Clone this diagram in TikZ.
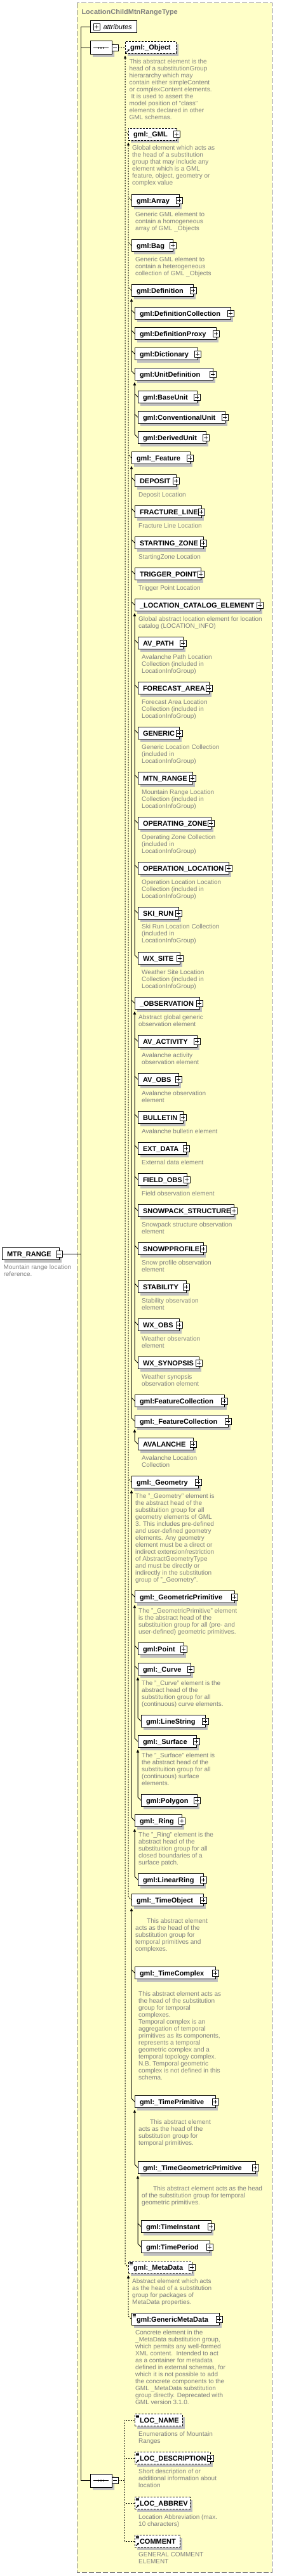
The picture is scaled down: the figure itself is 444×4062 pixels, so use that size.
\documentclass[tikz,border=0pt]{standalone}
\usepackage{fontspec}
\setmainfont{Liberation Sans}
\usepackage{xcolor}
\usetikzlibrary{arrows.meta,shapes.misc,shadows}
\definecolor{TypeYellow}{RGB}{255,255,200}
\definecolor{TypeFrame}{RGB}{128,128,128}
\definecolor{DocGray}{RGB}{128,128,128}
\definecolor{ShadowGray}{RGB}{192,192,192}
\newcommand{\elfont}{\fontsize{11}{13}\selectfont\bfseries}
\newcommand{\docfont}{\fontsize{10}{11}\selectfont}
\hyphenpenalty=10000
\exhyphenpenalty=10000

\begin{document}
\begin{tikzpicture}[x=1pt,y=-1pt,line width=1pt,
  elbox/.style={draw,fill=white,anchor=west,outer sep=0pt,inner xsep=0pt,inner ysep=0pt,
    text width=#1pt,minimum height=19pt,text height=9.5pt,text depth=1.5pt,align=left,
    font=\elfont,execute at begin node={\leavevmode\hspace*{8pt}},
    drop shadow={shadow xshift=4pt,shadow yshift=-4pt,fill=ShadowGray,opacity=1}},
  absbox/.style={elbox=#1,dash pattern=on 3pt off 2pt},
  docnote/.style={anchor=north west,yshift=7.7pt,inner sep=0pt,align=left,font=\docfont,
    text=DocGray,execute at begin node={\strut}},
  plusbox/.style={draw,solid,fill=white,minimum size=10pt,inner sep=0pt,outer sep=0pt,
    path picture={\draw[solid,line width=1pt] ([xshift=2pt]path picture bounding box.west) -- ([xshift=-2pt]path picture bounding box.east)
      ([yshift=2pt]path picture bounding box.south) -- ([yshift=-2pt]path picture bounding box.north);}},
  minusbox/.style={draw,solid,fill=white,minimum size=10pt,inner sep=0pt,outer sep=0pt,
    path picture={\draw[solid,line width=1pt] ([xshift=2pt]path picture bounding box.west) -- ([xshift=-2pt]path picture bounding box.east);}},
  seqbox/.style={chamfered rectangle,chamfered rectangle xsep=4pt,draw,fill=white,
    minimum width=34pt,minimum height=21pt,inner sep=0pt,outer sep=0pt,
    drop shadow={shadow xshift=4pt,shadow yshift=-4pt,fill=ShadowGray,opacity=1}},
  subline/.style={{Triangle[length=5pt,width=4pt]}-},
  dline/.style={dash pattern=on 2pt off 2pt},
  subdash/.style={subline,dline}
]
\fill[white] (0,0) rectangle (444,4062);
\useasboundingbox (0,0) rectangle (444,4062);

% complex type frame
\draw[TypeFrame,fill=TypeYellow,dash pattern=on 8pt off 3pt] (121,5) rectangle (428,4056);
\node[anchor=base west,inner sep=0pt,font=\elfont,text=DocGray] (title) at (128,23) {LocationChildMtnRangeType};

% root element
\node[elbox=90] (root) at (3,1977) {MTR\_RANGE};
\node[minusbox] (root-x) at (root.east) {};
\node[docnote] (d-root) at (5,2001.5) {Mountain range location\\reference.};

% attributes and sequences
\node[draw,fill=white,anchor=west,outer sep=0pt,inner xsep=0pt,text width=73pt,minimum height=19pt,
  text height=9.5pt,text depth=1.5pt,align=left,font=\fontsize{11}{13}\selectfont\itshape,
  execute at begin node={\leavevmode\hspace*{20.5pt}}] (attr) at (142,42.5) {attributes};
\node[plusbox] (attr-x) at ([xshift=10pt]attr.west) {};
\node[seqbox] (seqa) at (159,75.5) {};
\node[minusbox,anchor=west] (seqa-x) at (seqa.east) {};
\node[seqbox] (seqb) at (159,3911.5) {};
\node[minusbox,anchor=west] (seqb-x) at (seqb.east) {};
\foreach \s in {seqa,seqb} {
  \draw ([xshift=-12pt]\s.center) -- ([xshift=12pt]\s.center);
  \foreach \d in {-4,0,4} \fill ([xshift=\d pt]\s.center) circle (1.4pt);
}

% first sequence: substitution groups
\node[absbox=80] (object) at (197,75) {gml:\_Object};
\node[docnote] (d-object) at (203,100.5) {This abstract element is the\\head of a substitutionGroup\\hierararchy which may\\contain either simpleContent\\or complexContent elements.\\\hspace*{3pt}It is used to assert the\\model position of "class"\\elements declared in other\\GML schemas.};
\node[absbox=76] (gml) at (202,212) {gml:\_GML};
\node[docnote] (d-gml) at (207.7,236.8) {Global element which acts as\\the head of a substitution\\group that may include any\\element which is a GML\\feature, object, geometry or\\complex value};
\node[elbox=75] (array) at (207,316) {gml:Array};
\node[docnote] (d-array) at (212.7,341.5) {Generic GML element to\\contain a homogeneous\\array of GML \_Objects};
\node[elbox=65] (bag) at (207,387) {gml:Bag};
\node[docnote] (d-bag) at (212.7,412.2) {Generic GML element to\\contain a heterogeneous\\collection of GML \_Objects};
\node[elbox=97] (defn) at (207,458) {gml:Definition};
\node[elbox=151] (defcoll) at (212,494) {gml:DefinitionCollection};
\node[elbox=128] (defproxy) at (212,526) {gml:DefinitionProxy};
\node[elbox=99] (dict) at (212,558) {gml:Dictionary};
\node[elbox=123] (unitdef) at (212,590) {gml:UnitDefinition};
\node[elbox=93] (baseunit) at (217,626) {gml:BaseUnit};
\node[elbox=137] (convunit) at (217,658) {gml:ConventionalUnit};
\node[elbox=107] (derunit) at (217,690) {gml:DerivedUnit};
\node[elbox=92] (feature) at (207,722) {gml:\_Feature};
\node[elbox=65] (deposit) at (212,758) {DEPOSIT};
\node[docnote] (d-deposit) at (217.7,783.2) {Deposit Location};
\node[elbox=105] (fracture) at (212,807) {FRACTURE\_LINE};
\node[docnote] (d-fracture) at (217.7,832.2) {Fracture Line Location};
\node[elbox=108] (startzone) at (212,856) {STARTING\_ZONE};
\node[docnote] (d-startzone) at (217.7,881.2) {StartingZone Location};
\node[elbox=104] (trigger) at (212,905) {TRIGGER\_POINT};
\node[docnote] (d-trigger) at (217.7,930.2) {Trigger Point Location};
\node[elbox=197] (loccat) at (212,954) {\_LOCATION\_CATALOG\_ELEMENT};
\node[docnote] (d-loccat) at (217.7,979.2) {Global abstract location element for location\\catalog (LOCATION\_INFO)};
\node[elbox=71] (avpath) at (217,1014) {AV\_PATH};
\node[docnote] (d-avpath) at (222.7,1039.2) {Avalanche Path Location\\Collection (included in\\LocationInfoGroup)};
\node[elbox=112] (forecast) at (217,1085) {FORECAST\_AREA};
\node[docnote] (d-forecast) at (222.7,1110.5) {Forecast Area Location\\Collection (included in\\LocationInfoGroup)};
\node[elbox=65] (generic) at (217,1156) {GENERIC};
\node[docnote] (d-generic) at (222.7,1181.2) {Generic Location Collection\\(included in\\LocationInfoGroup)};
\node[elbox=86] (mtnrange) at (217,1227) {MTN\_RANGE};
\node[docnote] (d-mtnrange) at (222.7,1252.2) {Mountain Range Location\\Collection (included in\\LocationInfoGroup)};
\node[elbox=115] (opzone) at (217,1298) {OPERATING\_ZONE};
\node[docnote] (d-opzone) at (222.7,1323.2) {Operating Zone Collection\\(included in\\LocationInfoGroup)};
\node[elbox=143] (oploc) at (217,1369) {OPERATION\_LOCATION};
\node[docnote] (d-oploc) at (222.7,1394.2) {Operation Location Location\\Collection (included in\\LocationInfoGroup)};
\node[elbox=64] (skirun) at (217,1440) {SKI\_RUN};
\node[docnote] (d-skirun) at (222.7,1464.8) {Ski Run Location Collection\\(included in\\LocationInfoGroup)};
\node[elbox=66] (wxsite) at (217,1511) {WX\_SITE};
\node[docnote] (d-wxsite) at (222.7,1536.2) {Weather Site Location\\Collection (included in\\LocationInfoGroup)};
\node[elbox=102] (observ) at (212,1582) {\_OBSERVATION};
\node[docnote] (d-observ) at (217.7,1607.2) {Abstract global generic\\observation element};
\node[elbox=93] (avact) at (217,1642) {AV\_ACTIVITY};
\node[docnote] (d-avact) at (222.7,1667.2) {Avalanche activity\\observation element};
\node[elbox=64] (avobs) at (217,1702) {AV\_OBS};
\node[docnote] (d-avobs) at (222.7,1727.2) {Avalanche observation\\element};
\node[elbox=71] (bulletin) at (217,1762) {BULLETIN};
\node[docnote] (d-bulletin) at (222.7,1787.2) {Avalanche bulletin element};
\node[elbox=76] (extdata) at (217,1811) {EXT\_DATA};
\node[docnote] (d-extdata) at (222.7,1836.2) {External data element};
\node[elbox=77] (fieldobs) at (217,1860) {FIELD\_OBS};
\node[docnote] (d-fieldobs) at (222.7,1885.2) {Field observation element};
\node[elbox=151] (snowpack) at (217,1909) {SNOWPACK\_STRUCTURE};
\node[docnote] (d-snowpack) at (222.7,1934.2) {Snowpack structure observation\\element};
\node[elbox=103] (snowprof) at (217,1969) {SNOWPPROFILE};
\node[docnote] (d-snowprof) at (222.7,1994.2) {Snow profile observation\\element};
\node[elbox=76] (stability) at (217,2029) {STABILITY};
\node[docnote] (d-stability) at (222.7,2054.2) {Stability observation\\element};
\node[elbox=65] (wxobs) at (217,2089) {WX\_OBS};
\node[docnote] (d-wxobs) at (222.7,2114.2) {Weather observation\\element};
\node[elbox=96] (wxsyn) at (217,2149) {WX\_SYNOPSIS};
\node[docnote] (d-wxsyn) at (222.7,2174.2) {Weather synopsis\\observation element};
\node[elbox=141] (featcoll) at (212,2209) {gml:FeatureCollection};
\node[elbox=147] (afeatcoll) at (212,2241) {gml:\_FeatureCollection};
\node[elbox=87] (avalanche) at (217,2277) {AVALANCHE};
\node[docnote] (d-avalanche) at (222.7,2302.2) {Avalanche Location\\Collection};
\node[elbox=105] (geometry) at (207,2337) {gml:\_Geometry};
\node[docnote] (d-geometry) at (212.7,2362.2) {The "\_Geometry" element is\\the abstract head of the\\substituition group for all\\geometry elements of GML\\3. This includes pre-defined\\and user-defined geometry\\elements. Any geometry\\element must be a direct or\\indirect extension/restriction\\of AbstractGeometryType\\and must be directly or\\indirectly in the substitution\\group of "\_Geometry".};
\node[elbox=157] (geomprim) at (212,2518) {gml:\_GeometricPrimitive};
\node[docnote] (d-geomprim) at (217.7,2543.2) {The "\_GeometricPrimitive" element\\is the abstract head of the\\substituition group for all (pre- and\\user-defined) geometric primitives.};
\node[elbox=72] (point) at (217,2600) {gml:Point};
\node[elbox=83] (curve) at (217,2632) {gml:\_Curve};
\node[docnote] (d-curve) at (222.7,2657.2) {The "\_Curve" element is the\\abstract head of the\\substituition group for all\\(continuous) curve elements.};
\node[elbox=101] (linestring) at (222,2714) {gml:LineString};
\node[elbox=92] (surface) at (217,2746) {gml:\_Surface};
\node[docnote] (d-surface) at (222.7,2771.2) {The "\_Surface" element is\\the abstract head of the\\substituition group for all\\(continuous) surface\\elements.};
\node[elbox=88] (polygon) at (222,2839) {gml:Polygon};
\node[elbox=74] (ring) at (212,2871) {gml:\_Ring};
\node[docnote] (d-ring) at (217.7,2896.2) {The "\_Ring" element is the\\abstract head of the\\substituition group for all\\closed boundaries of a\\surface patch.};
\node[elbox=103] (linring) at (217,2964) {gml:LinearRing};
\node[elbox=113] (timeobj) at (207,2996) {gml:\_TimeObject};
\node[docnote] (d-timeobj) at (212.7,3032.2) {\hspace*{18pt}This abstract element\\acts as the head of the\\substitution group for\\temporal primitives and\\complexes.};
\node[elbox=127] (timecplx) at (212,3111) {gml:\_TimeComplex};
\node[docnote] (d-timecplx) at (217.7,3147.2) {This abstract element acts as\\the head of the substitution\\group for temporal\\complexes.\\Temporal complex is an\\aggregation of temporal\\primitives as its components,\\represents a temporal\\geometric complex and a\\temporal topology complex.\\N.B. Temporal geometric\\complex is not defined in this\\schema.};
\node[elbox=127] (timeprim) at (212,3314) {gml:\_TimePrimitive};
\node[docnote] (d-timeprim) at (217.7,3349.8) {\hspace*{18pt}This abstract element\\acts as the head of the\\substitution group for\\temporal primitives.};
\node[elbox=185] (timegeom) at (217,3418) {gml:\_TimeGeometricPrimitive};
\node[docnote] (d-timegeom) at (222.7,3454.2) {\hspace*{18pt}This abstract element acts as the head\\of the substitution group for temporal\\geometric primitives.};
\node[elbox=110] (timeinst) at (222,3511) {gml:TimeInstant};
\node[elbox=108] (timeper) at (222,3543) {gml:TimePeriod};
\node[absbox=100] (metadata) at (202,3575) {gml:\_MetaData};
\node[docnote] (d-metadata) at (207.7,3600.2) {Abstract element which acts\\as the head of a substitution\\group for packages of\\MetaData properties.};
\node[elbox=138] (genmeta) at (207,3657) {gml:GenericMetaData};
\node[docnote] (d-genmeta) at (212.7,3681.8) {Concrete element in the\\\_MetaData substitution group,\\which permits any well-formed\\XML content.\ \ Intended to act\\as a container for metadata\\defined in external schemas, for\\which it is not possible to add\\the concrete components to the\\GML \_MetaData substitution\\group directly. Deprecated with\\GML version 3.1.0.};

% second sequence
\node[absbox=75] (locname) at (212,3816) {LOC\_NAME};
\node[docnote] (d-locname) at (217.7,3841.2) {Enumerations of Mountain\\Ranges};
\node[absbox=119] (locdesc) at (212,3876) {LOC\_DESCRIPTION};
\node[docnote] (d-locdesc) at (217.7,3900.8) {Short description of or\\additional information about\\location};
\node[absbox=87] (locabbr) at (212,3947) {LOC\_ABBREV};
\node[docnote] (d-locabbr) at (217.7,3972.2) {Location Abbreviation (max.\\10 characters)};
\node[absbox=71] (comment) at (212,4007) {COMMENT};
\node[docnote] (d-comment) at (217.7,4031.8) {GENERAL COMMENT\\ELEMENT};

% expand boxes
\foreach \n in {gml,array,bag,defn,defcoll,defproxy,dict,unitdef,baseunit,convunit,derunit,
  feature,deposit,fracture,startzone,trigger,loccat,avpath,forecast,generic,mtnrange,opzone,
  oploc,skirun,wxsite,observ,avact,avobs,bulletin,extdata,fieldobs,snowpack,snowprof,stability,
  wxobs,wxsyn,featcoll,afeatcoll,avalanche,geometry,geomprim,point,curve,linestring,surface,
  polygon,ring,linring,timeobj,timecplx,timeprim,timegeom,timeinst,timeper,metadata,genmeta,locdesc}
  \node[plusbox] (\n-x) at (\n.east) {};

% simple-content and reference marks
\foreach \n in {metadata,genmeta,locname,locdesc,locabbr,comment}
  \foreach \k in {2,4,6} \draw[solid,line width=0.8pt] ([xshift=2pt,yshift=-\k pt]\n.north west) -- ++(5,0);
\foreach \n in {object,locdesc,locabbr,comment}
  \draw[solid,line width=1pt,-{Triangle[length=3pt,width=3pt]}] ([xshift=2pt,yshift=2pt]\n.south west) -- ++(5,-5);

% model connectors
\draw (attr.west) -- ++(-15,0) coordinate (trunk) |- (seqb.west);
\draw (seqa.west) -- (seqa.west -| trunk);
\draw (root-x.east) -- (root-x.east -| trunk);
\draw[dline] (seqa-x.east) -- (object.west);
\draw[dline] (seqb-x.east) -- ++(10,0) coordinate (bus);
\draw[dline] (locname.west) -| (bus);
\draw[dline] (comment.west) -| (bus);
\draw[dline] (locdesc.west) -- (locdesc.west -| bus);
\draw[dline] (locabbr.west) -- (locabbr.west -| bus);

% substitution group lines
\draw[subdash] ([yshift=-3pt]object.south west) |- ([xshift=-5pt,yshift=5pt]metadata.west) -- (metadata.west);
\draw[dline] (gml.west) -- ++(-5,-5);
\draw[subdash] ([yshift=-3pt]gml.south west) |- ([xshift=-5pt,yshift=5pt]timeobj.west) -- (timeobj.west);
\foreach \ch in {array,bag,defn,feature,geometry} \draw[dline] (\ch.west) -- ++(-5,-5);
\draw[subline] ([yshift=-3pt]defn.south west) |- ([xshift=-5pt,yshift=5pt]unitdef.west) -- (unitdef.west);
\foreach \ch in {defcoll,defproxy,dict} \draw (\ch.west) -- ++(-5,-5);
\draw[subline] ([yshift=-3pt]unitdef.south west) |- ([xshift=-5pt,yshift=5pt]derunit.west) -- (derunit.west);
\foreach \ch in {baseunit,convunit} \draw (\ch.west) -- ++(-5,-5);
\draw[subline] ([yshift=-3pt]feature.south west) |- ([xshift=-5pt,yshift=5pt]afeatcoll.west) -- (afeatcoll.west);
\foreach \ch in {deposit,fracture,startzone,trigger,loccat,observ,featcoll} \draw (\ch.west) -- ++(-5,-5);
\draw[subline] ([yshift=-3pt]loccat.south west) |- ([xshift=-5pt,yshift=5pt]wxsite.west) -- (wxsite.west);
\foreach \ch in {avpath,forecast,generic,mtnrange,opzone,oploc,skirun} \draw (\ch.west) -- ++(-5,-5);
\draw[subline] ([yshift=-3pt]observ.south west) |- ([xshift=-5pt,yshift=5pt]wxsyn.west) -- (wxsyn.west);
\foreach \ch in {avact,avobs,bulletin,extdata,fieldobs,snowpack,snowprof,stability,wxobs} \draw (\ch.west) -- ++(-5,-5);
\draw[subline] ([yshift=-3pt]afeatcoll.south west) |- ([xshift=-5pt,yshift=5pt]avalanche.west) -- (avalanche.west);
\draw[subline] ([yshift=-3pt]geometry.south west) |- ([xshift=-5pt,yshift=5pt]ring.west) -- (ring.west);
\draw (geomprim.west) -- ++(-5,-5);
\draw[subline] ([yshift=-3pt]geomprim.south west) |- ([xshift=-5pt,yshift=5pt]surface.west) -- (surface.west);
\foreach \ch in {point,curve} \draw (\ch.west) -- ++(-5,-5);
\draw[subline] ([yshift=-3pt]curve.south west) |- ([xshift=-5pt,yshift=5pt]linestring.west) -- (linestring.west);
\draw[subline] ([yshift=-3pt]surface.south west) |- ([xshift=-5pt,yshift=5pt]polygon.west) -- (polygon.west);
\draw[subline] ([yshift=-3pt]ring.south west) |- ([xshift=-5pt,yshift=5pt]linring.west) -- (linring.west);
\draw[subline] ([yshift=-3pt]timeobj.south west) |- ([xshift=-5pt,yshift=5pt]timeprim.west) -- (timeprim.west);
\draw (timecplx.west) -- ++(-5,-5);
\draw[subline] ([yshift=-3pt]timeprim.south west) |- ([xshift=-5pt,yshift=5pt]timegeom.west) -- (timegeom.west);
\draw[subline] ([yshift=-3pt]timegeom.south west) |- ([xshift=-5pt,yshift=5pt]timeper.west) -- (timeper.west);
\draw (timeinst.west) -- ++(-5,-5);
\draw[subdash] ([yshift=-3pt]metadata.south west) |- ([xshift=-5pt,yshift=5pt]genmeta.west) -- (genmeta.west);
\end{tikzpicture}
\end{document}
